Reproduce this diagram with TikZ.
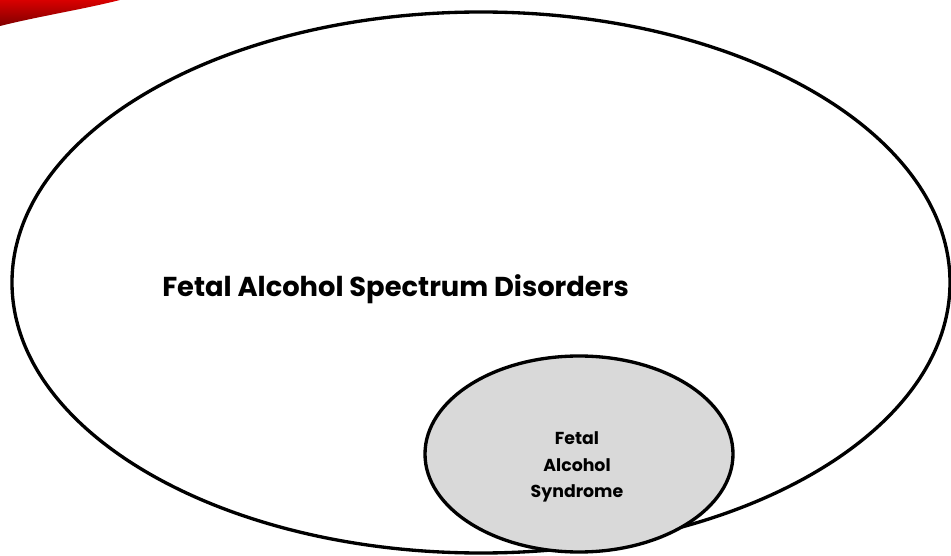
\documentclass[tikz,border=0pt]{standalone}
\usepackage{fontspec}
\setmainfont{Poppins}
\tikzset{
  bigell/.style={draw=black, line width=2.5pt},
  smallell/.style={draw=black, line width=2.5pt, fill=gray!30},
  lbl/.style={text=black},
}
\begin{document}
\begin{tikzpicture}[x=0.75pt,y=-0.75pt]
\useasboundingbox (0,0) rectangle (951,556);
\fill[white] (0,0) rectangle (951,556);
% red swoosh
\shade[top color=red!85!black, bottom color=red!50!black]
  (0,0) -- (120,0) .. controls (80,10) and (40,16) .. (0,26) -- cycle;
% large ellipse
\draw[bigell] (481,282.5) ellipse [x radius=469, y radius=270.5];
\coordinate (big) at (481,282.5);
% small ellipse
\filldraw[smallell] (579,454) ellipse [x radius=154, y radius=98];
\coordinate (small) at (579,454);
\node[lbl, font=\bfseries\fontsize{20.5}{24}\selectfont, anchor=west, inner sep=0pt] (fasd) at (162,289) {Fetal Alcohol Spectrum Disorders};
\node[lbl, font=\bfseries\fontsize{13}{20}\selectfont, align=center] (fas) at (577,467) {Fetal\\Alcohol\\Syndrome};
\end{tikzpicture}
\end{document}
